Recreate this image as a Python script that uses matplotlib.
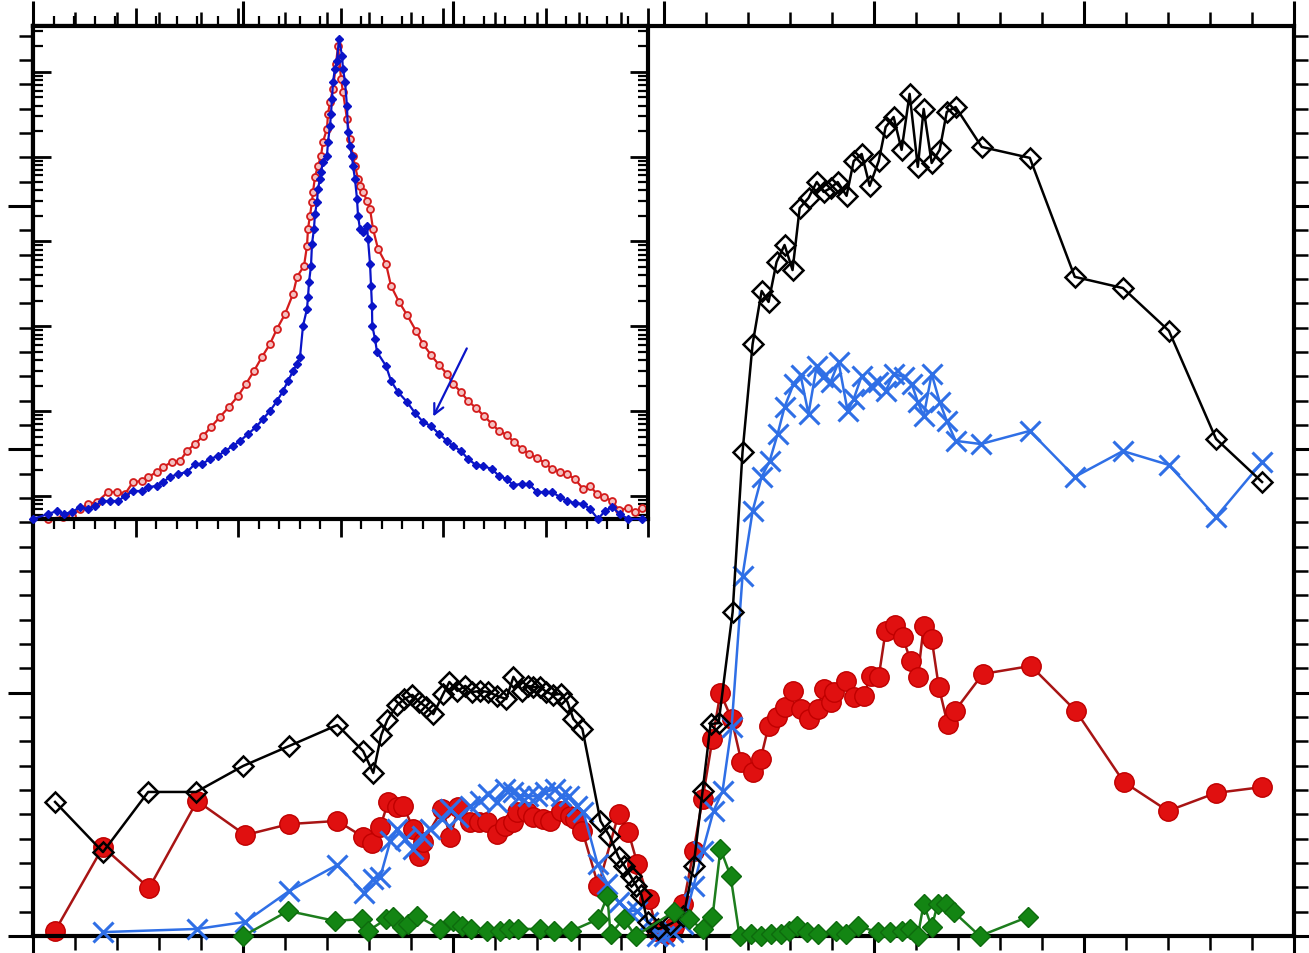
import numpy as np
import matplotlib
matplotlib.use("Agg")
import matplotlib.pyplot as plt
from matplotlib.ticker import MultipleLocator, LogLocator, NullFormatter

# ---- main panel data ----
black_x = [0.105, 0.333, 0.548, 0.776, 1.000, 1.219, 1.448, 1.571, 1.619, 1.657, 1.686, 1.733, 1.767,
           1.805, 1.838, 1.871, 1.905, 1.952, 1.981, 2.019, 2.057, 2.090, 2.129, 2.167, 2.210, 2.252,
           2.286, 2.329, 2.357, 2.381, 2.414, 2.443, 2.476, 2.510, 2.543, 2.571, 2.614, 2.700, 2.743,
           2.786, 2.814, 2.843, 2.871, 2.895, 2.924, 2.976, 3.033, 3.095, 3.143, 3.186, 3.224, 3.262,
           3.329, 3.376, 3.424, 3.467, 3.500, 3.538, 3.576, 3.614, 3.648, 3.690, 3.729, 3.762, 3.795,
           3.829, 3.871, 3.905, 3.943, 3.981, 4.024, 4.057, 4.095, 4.133, 4.171, 4.210, 4.238, 4.276,
           4.314, 4.348, 4.390, 4.514, 4.743, 4.957, 5.186, 5.405, 5.629, 5.848]
black_y = [0.551, 0.345, 0.592, 0.592, 0.699, 0.781, 0.867, 0.760, 0.670, 0.826, 0.888, 0.949, 0.974,
           0.991, 0.962, 0.941, 0.912, 0.995, 1.044, 1.007, 1.028, 1.003, 1.007, 1.003, 0.986, 0.974,
           1.065, 1.007, 1.028, 1.023, 1.023, 1.003, 0.991, 0.995, 0.962, 0.892, 0.851, 0.473, 0.411,
           0.325, 0.288, 0.247, 0.206, 0.169, 0.058, 0.029, 0.049, 0.082, 0.288, 0.596, 0.871, 0.875,
           1.332, 1.989, 2.433, 2.651, 2.606, 2.770, 2.840, 2.737, 2.992, 3.033, 3.099, 3.058, 3.074,
           3.099, 3.042, 3.185, 3.214, 3.083, 3.185, 3.325, 3.366, 3.231, 3.461, 3.161, 3.399, 3.177,
           3.231, 3.387, 3.407, 3.243, 3.198, 2.709, 2.663, 2.487, 2.043, 1.866]

red_x = [0.105, 0.333, 0.552, 0.781, 1.010, 1.219, 1.448, 1.571, 1.614, 1.652, 1.690, 1.733, 1.762,
         1.810, 1.838, 1.857, 1.948, 1.986, 2.024, 2.081, 2.124, 2.162, 2.210, 2.248, 2.286, 2.305,
         2.352, 2.381, 2.429, 2.462, 2.510, 2.557, 2.581, 2.614, 2.690, 2.786, 2.833, 2.876, 2.929,
         2.971, 3.010, 3.048, 3.095, 3.143, 3.186, 3.233, 3.271, 3.324, 3.371, 3.424, 3.462, 3.500,
         3.538, 3.576, 3.614, 3.652, 3.690, 3.733, 3.762, 3.795, 3.810, 3.867, 3.905, 3.952, 3.986,
         4.024, 4.057, 4.100, 4.138, 4.176, 4.210, 4.238, 4.276, 4.310, 4.352, 4.386, 4.519, 4.748,
         4.962, 5.190, 5.400, 5.629, 5.848]
red_y = [0.021, 0.366, 0.197, 0.555, 0.415, 0.460, 0.473, 0.407, 0.382, 0.448, 0.551, 0.530, 0.534,
         0.440, 0.329, 0.386, 0.522, 0.407, 0.530, 0.469, 0.469, 0.469, 0.419, 0.452, 0.469, 0.510,
         0.510, 0.489, 0.481, 0.473, 0.514, 0.493, 0.481, 0.432, 0.206, 0.501, 0.427, 0.296, 0.152,
         0.021, 0.008, 0.037, 0.132, 0.349, 0.563, 0.810, 0.999, 0.892, 0.715, 0.674, 0.727, 0.863,
         0.900, 0.941, 1.007, 0.933, 0.892, 0.933, 1.015, 0.962, 1.003, 1.048, 0.982, 0.986, 1.069,
         1.065, 1.254, 1.278, 1.229, 1.130, 1.065, 1.274, 1.221, 1.023, 0.871, 0.925, 1.077, 1.110,
         0.925, 0.633, 0.514, 0.588, 0.612]

blue_x = [0.333, 0.781, 1.010, 1.219, 1.448, 1.576, 1.619, 1.652, 1.700, 1.733, 1.771, 1.810, 1.852,
          1.890, 1.948, 1.986, 2.024, 2.081, 2.129, 2.167, 2.210, 2.248, 2.286, 2.319, 2.357, 2.400,
          2.438, 2.486, 2.510, 2.548, 2.590, 2.619, 2.686, 2.733, 2.786, 2.829, 2.876, 2.924, 2.971,
          3.000, 3.043, 3.095, 3.143, 3.186, 3.238, 3.281, 3.324, 3.376, 3.424, 3.467, 3.505, 3.543,
          3.576, 3.619, 3.652, 3.690, 3.729, 3.757, 3.795, 3.833, 3.876, 3.905, 3.943, 3.986, 4.019,
          4.057, 4.095, 4.143, 4.181, 4.210, 4.238, 4.276, 4.314, 4.348, 4.390, 4.510, 4.743, 4.957,
          5.186, 5.405, 5.629, 5.848]
blue_y = [0.016, 0.029, 0.058, 0.185, 0.292, 0.177, 0.234, 0.242, 0.390, 0.440, 0.399, 0.358, 0.411,
          0.440, 0.481, 0.522, 0.489, 0.534, 0.555, 0.584, 0.551, 0.604, 0.592, 0.575, 0.575, 0.575,
          0.592, 0.604, 0.575, 0.575, 0.534, 0.510, 0.296, 0.214, 0.140, 0.103, 0.103, 0.058, 0.000,
          0.000, 0.016, 0.049, 0.206, 0.349, 0.514, 0.596, 0.859, 1.480, 1.747, 1.887, 1.952, 2.063,
          2.174, 2.269, 2.306, 2.146, 2.343, 2.298, 2.277, 2.359, 2.158, 2.207, 2.302, 2.261, 2.277,
          2.240, 2.310, 2.298, 2.269, 2.195, 2.137, 2.310, 2.195, 2.117, 2.035, 2.022, 2.076, 1.887,
          1.993, 1.936, 1.722, 1.948]

green_x = [1.000, 1.214, 1.438, 1.567, 1.595, 1.681, 1.714, 1.757, 1.786, 1.829, 1.938, 2.000, 2.043,
           2.086, 2.162, 2.224, 2.267, 2.310, 2.414, 2.481, 2.562, 2.690, 2.733, 2.748, 2.810, 2.867,
           3.048, 3.119, 3.186, 3.233, 3.271, 3.319, 3.362, 3.414, 3.462, 3.510, 3.557, 3.595, 3.633,
           3.681, 3.733, 3.819, 3.867, 3.924, 4.019, 4.076, 4.133, 4.171, 4.210, 4.238, 4.276, 4.305,
           4.343, 4.381, 4.505, 4.733]
green_y = [0.000, 0.103, 0.062, 0.070, 0.021, 0.070, 0.078, 0.037, 0.049, 0.082, 0.029, 0.062, 0.041,
           0.029, 0.021, 0.021, 0.029, 0.029, 0.029, 0.021, 0.021, 0.070, 0.164, 0.008, 0.070, 0.000,
           0.099, 0.070, 0.029, 0.078, 0.358, 0.247, 0.000, 0.008, 0.000, 0.008, 0.008, 0.021, 0.041,
           0.016, 0.008, 0.021, 0.008, 0.041, 0.016, 0.016, 0.021, 0.029, 0.000, 0.132, 0.037, 0.132,
           0.132, 0.099, 0.000, 0.078]

# ---- inset data (y given as log10 of the value) ----
in_red_x = [0.146, 0.293, 0.380, 0.459, 0.537, 0.624, 0.732, 0.820, 0.898, 0.976, 1.063, 1.122, 1.210,
            1.268, 1.356, 1.434, 1.502, 1.580, 1.659, 1.737, 1.824, 1.912, 2.000, 2.078, 2.156, 2.234,
            2.312, 2.380, 2.459, 2.537, 2.576, 2.644, 2.673, 2.683, 2.702, 2.722, 2.732, 2.751, 2.780,
            2.810, 2.829, 2.868, 2.878, 2.898, 2.927, 2.956, 2.976, 3.005, 3.024, 3.063, 3.093, 3.122,
            3.141, 3.171, 3.190, 3.220, 3.259, 3.288, 3.317, 3.366, 3.444, 3.493, 3.571, 3.649, 3.737,
            3.805, 3.883, 3.961, 4.039, 4.098, 4.176, 4.244, 4.322, 4.400, 4.478, 4.546, 4.624, 4.693,
            4.771, 4.839, 4.917, 4.995, 5.063, 5.141, 5.210, 5.288, 5.366, 5.434, 5.502, 5.571, 5.649,
            5.717, 5.805, 5.873, 5.941]
in_red_log = [-0.271, -0.248, -0.236, -0.153, -0.094, -0.071, 0.047, 0.047, 0.024, 0.165, 0.177, 0.224,
              0.283, 0.342, 0.401, 0.413, 0.531, 0.613, 0.708, 0.814, 0.932, 1.050, 1.179, 1.321, 1.474,
              1.639, 1.792, 1.969, 2.146, 2.382, 2.583, 2.712, 2.948, 3.149, 3.302, 3.467, 3.585, 3.762,
              3.892, 4.009, 4.175, 4.328, 4.505, 4.646, 4.800, 5.094, 5.307, 4.917, 4.764, 4.446, 4.210,
              4.009, 3.892, 3.738, 3.656, 3.585, 3.479, 3.384, 3.149, 2.913, 2.736, 2.476, 2.288, 2.134,
              1.946, 1.792, 1.663, 1.545, 1.439, 1.321, 1.226, 1.120, 1.038, 0.943, 0.849, 0.767, 0.719,
              0.637, 0.554, 0.495, 0.448, 0.389, 0.318, 0.283, 0.259, 0.200, 0.083, 0.118, 0.024, -0.012,
              -0.059, -0.165, -0.142, -0.189, -0.142]

in_blue_x = [0.000, 0.146, 0.234, 0.302, 0.380, 0.459, 0.537, 0.605, 0.673, 0.751, 0.829, 0.898, 0.976,
             1.063, 1.122, 1.210, 1.268, 1.337, 1.415, 1.502, 1.580, 1.649, 1.727, 1.805, 1.873, 1.951,
             2.020, 2.098, 2.176, 2.244, 2.312, 2.380, 2.439, 2.488, 2.537, 2.576, 2.605, 2.634, 2.673,
             2.683, 2.693, 2.712, 2.722, 2.741, 2.751, 2.771, 2.780, 2.800, 2.810, 2.829, 2.868, 2.878,
             2.898, 2.907, 2.917, 2.927, 2.946, 2.966, 2.985, 3.015, 3.024, 3.044, 3.063, 3.073, 3.093,
             3.112, 3.122, 3.141, 3.161, 3.171, 3.190, 3.220, 3.259, 3.268, 3.288, 3.298, 3.307, 3.310,
             3.337, 3.356, 3.444, 3.493, 3.561, 3.649, 3.727, 3.805, 3.883, 3.961, 4.039, 4.098, 4.176,
             4.244, 4.322, 4.390, 4.478, 4.546, 4.624, 4.683, 4.771, 4.839, 4.917, 4.995, 5.063, 5.141,
             5.210, 5.288, 5.366, 5.434, 5.512, 5.580, 5.649, 5.727, 5.805, 5.941]
in_blue_log = [-0.271, -0.212, -0.177, -0.212, -0.189, -0.130, -0.153, -0.118, -0.059, -0.059, -0.059,
               0.000, 0.059, 0.059, 0.106, 0.118, 0.165, 0.224, 0.259, 0.283, 0.377, 0.377, 0.436, 0.472,
               0.531, 0.590, 0.649, 0.731, 0.814, 0.908, 1.002, 1.120, 1.238, 1.356, 1.474, 1.557, 1.639,
               2.005, 2.205, 2.347, 2.524, 2.712, 2.972, 3.149, 3.325, 3.467, 3.620, 3.738, 3.821, 3.939,
               4.009, 4.175, 4.363, 4.505, 4.682, 4.882, 5.035, 5.130, 5.389, 5.189, 5.035, 4.882, 4.599,
               4.292, 4.127, 4.009, 3.892, 3.738, 3.502, 3.302, 3.149, 3.113, 3.184, 3.031, 2.736, 2.476,
               2.241, 2.005, 1.851, 1.698, 1.533, 1.356, 1.226, 1.108, 0.979, 0.873, 0.825, 0.731, 0.649,
               0.590, 0.531, 0.436, 0.366, 0.354, 0.318, 0.236, 0.200, 0.130, 0.142, 0.142, 0.047, 0.047,
               0.047, -0.012, -0.059, -0.083, -0.094, -0.153, -0.271, -0.177, -0.130, -0.212, -0.271,
               -0.271]

arrow_tail = (4.244, 1.769)
arrow_head = (3.893, 0.908)

# ---- figure ----
fig = plt.figure(figsize=(13.09, 9.54), dpi=100)
ax = fig.add_axes([33 / 1309, 1 - 937 / 954, (1294 - 33) / 1309, (937 - 27) / 954])

ax.plot(red_x, red_y, color='#a81414', lw=1.8, marker='o', ms=14, mfc='#e01010', mec='#c00000',
        clip_on=False, zorder=2)
ax.plot(blue_x, blue_y, color='#2f6fe6', lw=1.8, marker='x', ms=15, mew=2.2, clip_on=False, zorder=3)
ax.plot(black_x, black_y, color='black', lw=1.8, marker='D', ms=10, mfc='none', mec='black', mew=1.8,
        clip_on=False, zorder=4)
ax.plot(green_x, green_y, color='#1d7d1d', lw=1.8, marker='D', ms=10, mfc='#138513', mec='#0d6b0d',
        clip_on=False, zorder=5)

ax.set_xlim(0, 6)
ax.set_ylim(0, 3.74)
ax.xaxis.set_major_locator(MultipleLocator(1))
ax.xaxis.set_minor_locator(MultipleLocator(0.2))
ax.yaxis.set_major_locator(MultipleLocator(1))
ax.yaxis.set_minor_locator(MultipleLocator(0.1))
ax.tick_params(which='both', direction='out', top=True, right=True,
               labelbottom=False, labelleft=False)
ax.tick_params(which='major', length=18, width=2.2)
ax.tick_params(which='minor', length=10, width=1.8)
for s in ax.spines.values():
    s.set_linewidth(3)

# ---- inset ----
ins = fig.add_axes([33 / 1309, 1 - 520 / 954, (648 - 33) / 1309, (520 - 27) / 954], zorder=10)
ins.set_yscale('log')
ins.plot(in_red_x, 10 ** np.array(in_red_log), color='#d41c1c', lw=1.6, marker='o', ms=5,
         mfc='#f4c0c0', mec='#d41c1c', mew=1.3, clip_on=False, zorder=2)
ins.plot(in_blue_x, 10 ** np.array(in_blue_log), color='#0a14c8', lw=1.6, marker='D', ms=4.5,
         mfc='#0a14c8', mec='#0a14c8', clip_on=False, zorder=3)
ins.annotate('', xy=(arrow_head[0], 10 ** arrow_head[1]), xytext=(arrow_tail[0], 10 ** arrow_tail[1]),
             arrowprops=dict(arrowstyle='->', color='#0a14c8', lw=1.6, mutation_scale=18))

ins.set_xlim(0, 6)
ins.set_ylim(10 ** -0.271, 10 ** 5.54)
ins.xaxis.set_major_locator(MultipleLocator(1))
ins.xaxis.set_minor_locator(MultipleLocator(0.2))
ins.yaxis.set_major_locator(LogLocator(base=10, numticks=20))
ins.yaxis.set_minor_locator(LogLocator(base=10, subs=np.arange(2, 10), numticks=20))
ins.yaxis.set_minor_formatter(NullFormatter())
ins.tick_params(axis='x', which='both', direction='out', top=True, bottom=True,
                labelbottom=False)
ins.tick_params(axis='y', which='both', direction='in', left=True, right=True,
                labelleft=False)
ins.tick_params(which='major', length=13, width=2)
ins.tick_params(which='minor', length=7, width=1.6)
for s in ins.spines.values():
    s.set_linewidth(3)

fig.savefig('out.png', dpi=100)
